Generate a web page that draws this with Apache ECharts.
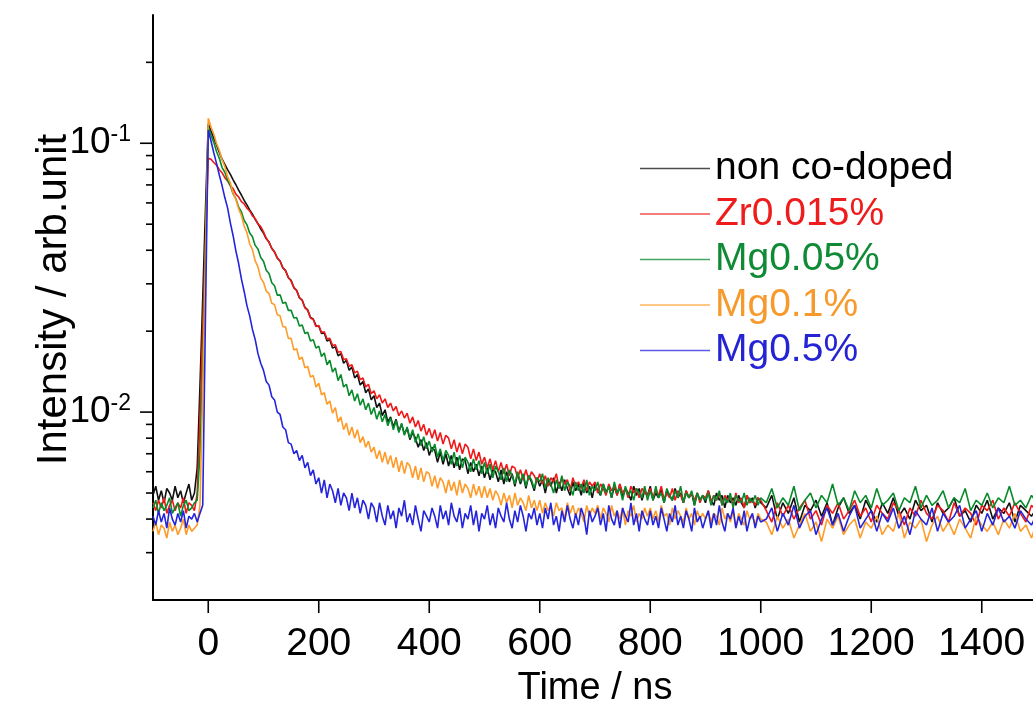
<!DOCTYPE html>
<html><head><meta charset="utf-8">
<script src="https://cdn.jsdelivr.net/npm/echarts@6/dist/echarts.min.js"></script>
<style>html,body{margin:0;padding:0;background:#fff;}#c{width:1033px;height:707px;}</style>
</head><body><div id="c"></div><script>
// sample times (ns)
const timeNs = [
-100,-95,-90,-85,-80,-75,-70,-65,-60,-55,-50,-45,-40,-35,-30,-25,-20,-15,-10,-5,
0,5,10,15,20,25,30,35,40,45,50,55,60,65,70,75,80,85,90,95,
100,105,110,115,120,125,130,135,140,145,150,155,160,165,170,175,180,185,190,195,
200,205,210,215,220,225,230,235,240,245,250,255,260,265,270,275,280,285,290,295,
300,305,310,315,320,325,330,335,340,345,350,355,360,365,370,375,380,385,390,395,
400,405,410,415,420,425,430,435,440,445,450,455,460,465,470,475,480,485,490,495,
500,505,510,515,520,525,530,535,540,545,550,555,560,565,570,575,580,585,590,595,
600,605,610,615,620,625,630,635,640,645,650,655,660,665,670,675,680,685,690,695,
700,705,710,715,720,725,730,735,740,745,750,755,760,765,770,775,780,785,790,795,
800,805,810,815,820,825,830,835,840,845,850,855,860,865,870,875,880,885,890,895,
900,905,910,915,920,925,930,935,940,945,950,955,960,965,970,975,980,985,990,995,
1000,
1010,1020,1030,1040,1050,1060,1070,1080,1090,1100,1110,1120,1130,1140,1150,1160,1170,1180,1190,1200,
1210,1220,1230,1240,1250,1260,1270,1280,1290,1300,1310,1320,1330,1340,1350,1360,1370,1380,1390,1400,
1410,1420,1430,1440,1450,1460,1470,1480,1490,1500
];

const seriesNames = ['non co-doped', 'Zr0.015%', 'Mg0.05%', 'Mg0.1%', 'Mg0.5%'];

// intensities, in units of 1e-4 arb.unit
const nonCoDoped = [
49,53,47,51,46,52,50,47,53,48,51,46,50,54,47,50,62,125,265,570,
1180,1110,1045,985,925,872,835,798,766,731,701,669,642,613,590,565,545,521,502,480,
463,441,429,406,395,374,365,344,336,316,309,290,284,266,261,245,240,225,222,210,
209,196,197,184,186,173,175,162,165,152,156,143,147,134,138,126,130,118,122,111,
115,104,108,97,102,92,96,88,94,85,90,83,87,79,84,80,74,79,72,77,
69,74,72,65,71,64,70,63,69,62,68,61,67,66,59,65,60,64,58,63,
57,62,56,61,60,55,61,54,60,55,59,53,59,54,58,52,58,55,51,57,
53,56,50,56,53,57,50,55,51,56,52,49,55,51,54,49,55,50,53,48,
54,51,49,54,50,53,48,53,49,54,48,52,50,47,53,49,52,47,51,49,
53,47,50,48,52,46,51,49,47,52,48,50,46,51,48,50,45,50,47,49,
46,51,47,45,50,47,49,44,49,46,48,45,49,46,44,49,46,48,44,48,
46,
44,49,40,46,42,48,39,45,43,47,41,46,38,44,48,42,45,40,47,43,
39,46,42,48,41,44,40,47,43,45,39,46,42,44,48,41,43,39,45,42,
47,40,44,42,46,39,45,43,41,44
];

const zr0015 = [
46,43,47,44,48,42,45,47,43,46,44,48,42,46,45,43,50,95,210,430,
880,872,848,829,797,777,745,724,695,678,647,631,607,595,573,560,537,525,501,490,
468,443,428,407,393,375,364,345,335,317,307,291,283,267,260,244,239,224,221,208,
210,198,199,187,188,177,178,167,168,157,158,148,150,140,142,132,134,124,127,117,
120,112,116,108,112,104,108,101,105,97,101,95,99,91,96,88,93,85,90,82,
87,80,86,78,84,76,82,80,73,79,71,77,70,76,74,67,73,66,71,64,
68,62,67,61,66,60,65,59,64,58,63,62,57,61,56,61,56,60,58,55,
59,54,58,53,57,55,59,52,57,54,56,51,57,53,55,52,56,51,55,53,
55,50,54,52,49,54,51,53,49,54,50,52,48,53,50,52,48,52,50,49,
52,48,51,49,53,47,50,48,52,47,51,49,46,51,48,50,47,50,46,49,
48,51,46,49,47,50,45,49,47,48,45,50,46,48,44,49,46,47,45,48,
47,
43,39,46,41,45,40,44,47,40,43,38,45,42,46,40,43,47,41,44,39,
45,42,40,46,43,38,44,41,47,42,40,45,43,39,46,41,44,42,38,45,
43,47,40,44,41,46,42,39,45,43
];

const mg005 = [
44,47,42,46,43,45,48,42,44,46,41,45,47,43,44,46,47,70,150,420,
1150,1070,1008,932,880,812,780,728,697,648,622,579,556,516,498,464,449,417,404,376,
364,337,328,303,295,272,273,254,256,239,239,224,225,209,211,196,198,184,186,173,
176,161,166,150,156,141,146,131,138,124,127,115,121,110,117,106,112,102,108,98,
104,94,101,92,98,89,95,86,93,84,91,82,88,80,86,77,83,75,81,73,
78,71,76,68,73,66,72,69,64,71,63,69,62,68,65,60,67,61,66,59,
65,59,64,57,63,60,56,62,55,61,58,54,60,55,59,53,58,56,52,57,
55,59,52,57,54,50,56,52,58,51,55,53,49,55,51,54,50,56,49,53,
51,55,49,54,50,53,48,55,50,52,47,53,49,51,47,52,50,48,53,47,
51,47,53,48,50,46,52,49,47,51,48,53,46,50,48,51,45,50,47,49,
47,50,45,49,47,51,45,48,46,50,44,49,47,46,50,45,48,46,49,45,
48,
46,52,44,48,45,53,43,47,50,44,49,46,54,45,48,43,51,46,49,44,
52,45,47,50,43,48,46,53,44,49,45,47,51,44,48,46,52,43,47,45,
50,44,48,46,53,45,47,44,49,46
];

const mg01 = [
36,39,35,38,37,34,39,36,38,35,37,40,35,38,36,37,38,45,120,380,
1240,1150,1082,998,942,868,820,752,712,652,618,570,539,492,465,423,402,365,347,315,
304,282,276,254,251,230,228,208,207,188,188,170,172,157,160,146,148,135,137,124,
128,116,118,107,110,99,104,92,96,86,91,82,88,80,86,77,81,74,78,71,
74,67,72,65,71,64,69,62,68,60,66,59,65,63,57,63,56,62,55,60,
59,53,58,52,57,55,50,56,51,55,49,56,50,54,52,48,54,49,53,48,
53,48,52,47,51,49,45,50,46,49,44,50,45,48,46,43,49,44,47,43,
47,42,46,43,45,41,46,43,44,40,46,42,45,41,44,42,39,45,41,44,
42,45,40,44,42,39,45,41,43,40,44,38,43,41,45,39,42,40,44,41,
44,40,43,39,45,41,42,38,44,40,43,41,39,44,40,42,38,43,40,42,
40,43,39,42,41,38,44,40,42,39,43,37,42,40,38,43,40,41,38,42,
40,
39,35,41,37,40,34,38,42,36,39,33,40,37,41,35,38,40,34,39,37,
41,35,38,36,42,34,39,37,40,33,38,41,36,39,35,40,37,34,41,38,
36,39,35,40,37,42,36,38,34,39
];

const mg05 = [
41,38,43,39,42,37,44,40,38,42,39,43,37,41,40,42,39,42,45,230,
1120,1020,922,842,762,696,628,575,506,453,398,357,313,281,249,228,203,186,165,152,
143,130,126,114,111,100,98,88,86,77,76,70,72,66,69,62,65,58,61,54,
57,50,56,48,54,51,46,52,45,50,48,43,50,44,48,42,47,45,40,46,
44,39,46,41,38,45,40,43,37,44,41,47,39,42,38,45,40,36,43,41,
39,44,41,37,45,40,43,38,46,41,39,44,37,42,40,45,38,43,36,42,
40,45,38,42,37,44,41,39,46,40,37,43,39,45,41,36,42,40,44,38,
42,37,44,40,46,38,41,36,43,39,45,40,37,42,38,44,41,35,43,39,
41,44,38,42,36,45,40,38,43,37,44,41,39,46,38,42,36,43,40,38,
43,38,41,37,44,40,36,42,39,45,38,41,37,43,40,36,44,39,41,37,
40,43,37,42,38,45,39,36,42,40,44,37,41,38,43,36,40,42,37,41,
39,
40,44,36,42,38,45,37,41,43,35,40,44,38,42,36,41,45,37,40,43,
36,42,39,44,37,41,35,43,40,38,44,36,42,39,41,45,37,40,43,36,
42,38,44,39,41,37,43,40,38,42
];

// axis tick values
const xTickValues = [0, 200, 400, 600, 800, 1000, 1200, 1400];
const yMajorTickValues = [0.01, 0.1];
const yMinorTickValues = [0.003,0.004,0.005,0.006,0.007,0.008,0.009,0.02,0.03,0.04,0.05,0.06,0.07,0.08,0.09,0.2];

const UNIT = 1e-4;
const X_MIN = -100, X_MAX = 1500, Y_MIN = 0.002, Y_MAX = 0.3;
const FONT = 'Liberation Sans, Arial, sans-serif';
const lineColors = ['#111111', '#f01818', '#078a2a', '#ff9b28', '#2424dc'];
const textColors = ['#000000', '#ee1c1c', '#0f8a35', '#f79a2c', '#2424d4'];
const allValues = [nonCoDoped, zr0015, mg005, mg01, mg05];
allValues.forEach((arr, i) => { if (arr.length !== timeNs.length) throw new Error(seriesNames[i] + ' length ' + arr.length + ' vs ' + timeNs.length); });

const lineSeries = allValues.map((arr, i) => ({
  name: seriesNames[i], type: 'line', showSymbol: false, symbol: 'none',
  data: timeNs.map((t, k) => [t, arr[k] * UNIT]),
  lineStyle: { color: lineColors[i], width: 1.6 },
  itemStyle: { color: lineColors[i] },
  sampling: null, clip: true, z: 2 + i
}));

function tickSeries(values, horizontal, len) {
  return {
    type: 'custom', silent: true, clip: false, z: 20,
    data: values.map(v => horizontal ? [X_MIN, v] : [v, Y_MIN]),
    encode: { x: 0, y: 1 },
    renderItem: (params, api) => {
      const p = api.coord([api.value(0), api.value(1)]);
      const shape = horizontal
        ? { x1: p[0] - len, y1: p[1], x2: p[0], y2: p[1] }
        : { x1: p[0], y1: p[1], x2: p[0], y2: p[1] + len };
      return { type: 'line', shape: shape, style: { stroke: '#000', lineWidth: 1.6 } };
    }
  };
}

const chart = echarts.init(document.getElementById('c'), null, { renderer: 'canvas' });
chart.setOption({
  animation: false,
  backgroundColor: '#fff',
  grid: { left: 153, right: -4, top: 15, bottom: 107, containLabel: false, outerBoundsMode: 'none' },
  legend: {
    orient: 'vertical', left: 635, top: 143, icon: 'rect',
    itemWidth: 70, itemHeight: 1.5, itemGap: 4.5, selectedMode: false,
    textStyle: { fontSize: 39, fontFamily: FONT, lineHeight: 41 },
    data: seriesNames.map((n, i) => ({ name: n, textStyle: { color: textColors[i] }, itemStyle: { opacity: 0.75 } }))
  },
  xAxis: {
    type: 'value', min: X_MIN, max: X_MAX, interval: 100,
    name: 'Time / ns', nameLocation: 'middle', nameGap: 70, nameMoveOverlap: false,
    nameTextStyle: { fontSize: 38, fontFamily: FONT, color: '#000' },
    axisLine: { onZero: false, lineStyle: { color: '#000', width: 2 } },
    axisTick: { show: false }, splitLine: { show: false },
    axisLabel: {
      margin: 25, fontSize: 39, fontFamily: FONT, color: '#000',
      formatter: v => (xTickValues.indexOf(v) >= 0 ? String(v) : '')
    }
  },
  yAxis: {
    type: 'log', logBase: 10, min: Y_MIN, max: Y_MAX,
    name: 'Intensity / arb.unit', nameLocation: 'middle', nameGap: 78, nameRotate: 90, nameMoveOverlap: false,
    nameTextStyle: { fontSize: 42, fontFamily: FONT, color: '#000', padding: [0, 0, 0, 16] },
    axisLine: { onZero: false, lineStyle: { color: '#000', width: 2 } },
    axisTick: { show: false }, splitLine: { show: false }, minorTick: { show: false },
    axisLabel: {
      margin: 22,
      formatter: v => {
        const lg = Math.log10(v); const e = Math.round(lg);
        if (Math.abs(lg - e) > 1e-6) return '';
        if (yMajorTickValues.every(m => Math.abs(Math.log10(m) - e) > 1e-6)) return '';
        return '{b|10}{s|' + e + '}';
      },
      rich: {
        b: { fontSize: 37, fontFamily: FONT, color: '#000', lineHeight: 40 },
        s: { fontSize: 23, fontFamily: FONT, color: '#000', lineHeight: 23, verticalAlign: 'top' }
      }
    }
  },
  series: lineSeries.concat([
    tickSeries(yMajorTickValues, true, 13),
    tickSeries(yMinorTickValues, true, 7),
    tickSeries(xTickValues, false, 13)
  ])
});
</script></body></html>
